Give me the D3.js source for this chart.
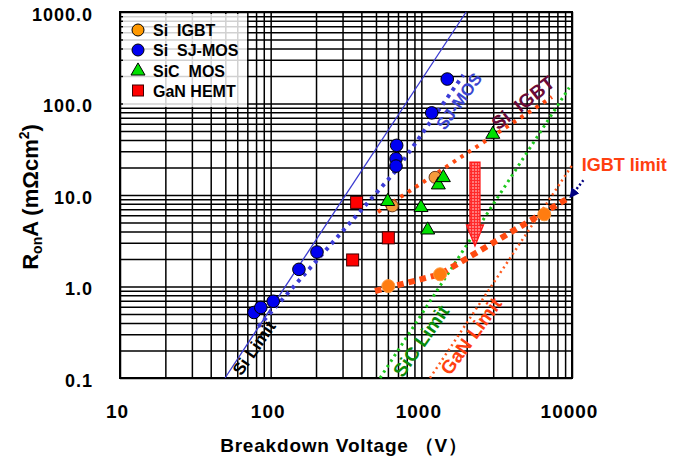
<!DOCTYPE html>
<html>
<head>
<meta charset="utf-8">
<script src="https://cdn.jsdelivr.net/npm/d3@7"></script>
<style>
  html, body { margin: 0; padding: 0; background: #fff; }
  svg { display: block; font-family: "Liberation Sans", Arial, sans-serif; font-weight: bold; }
</style>
</head>
<body>
<svg id="chart" width="686" height="463"></svg>
<script>
// ---- device data: breakdown voltage (V) and specific on-resistance (mΩcm²) ----
const siIgbtV   = [641, 1233];
const siIgbtR   = [7.6, 15.6];
const sjMosV    = [77.5, 86, 104, 154, 203, 686, 679, 679, 1172, 1486];
const sjMosR    = [0.52, 0.59, 0.69, 1.54, 2.38, 34.9, 24.9, 20.7, 79, 185];
const sicMosV   = [598, 995, 1102, 1297, 1400, 2980];
const sicMosR   = [8.5, 7.3, 4.15, 12.9, 15.5, 46.1];
const ganHemtV  = [372, 604, 350];
const ganHemtR  = [8.3, 3.4, 1.95];
// IGBT devices sitting on the projected IGBT limit
const igbtLimDevV = [604, 1331, 6550];
const igbtLimDevR = [1.01, 1.36, 6.15];

// ---- trend and material limit lines ----
const siLimitV    = [49.8, 1983];
const siLimitR    = [0.1, 1000];
const sicLimitV   = [532, 9590];
const sicLimitR   = [0.1, 149];
const ganLimitV   = [1141, 10150];
const ganLimitR   = [0.1, 21.8];
const sjTrendV    = [82.8, 686, 1899];
const sjTrendR    = [0.364, 18.8, 205];
const igbtTrendV  = [515, 7360];
const igbtTrendR  = [6.52, 117.8];
const igbtLimitV  = [493, 1331, 9700];
const igbtLimitR  = [0.893, 1.36, 9.5];

// ---- axes ----
const xMajor = [10, 100, 1000, 10000];
const xTickLabels = ["10", "100", "1000", "10000"];
const yMajor = [0.1, 1, 10, 100, 1000];
const yTickLabels = ["0.1", "1.0", "10.0", "100.0", "1000.0"];

const legendNames = ["Si  IGBT", "Si  SJ-MOS", "SiC  MOS", "GaN HEMT"];

const svg = d3.select("#chart");
const pLeft = 120, pRight = 572, pTop = 12, pBottom = 378;
const x = d3.scaleLog().domain([10, 10000]).range([pLeft, pRight]);
const y = d3.scaleLog().domain([0.1, 1000]).range([pBottom, pTop]);

const zip = (vs, rs) => vs.map((v, i) => [v, rs[i]]);

// hatched fill for the improvement arrow
const defs = svg.append("defs");
const pat = defs.append("pattern").attr("id", "hatch").attr("patternUnits", "userSpaceOnUse")
  .attr("width", 3).attr("height", 3);
pat.append("rect").attr("width", 3).attr("height", 3).attr("fill", "#ff7a7a");
pat.append("path").attr("d", "M0,0.5H3M0.5,0V3").attr("stroke", "#ff2a2a").attr("stroke-width", 1);
defs.append("marker").attr("id", "navyHead").attr("viewBox", "0 0 10 10").attr("refX", 8).attr("refY", 5)
  .attr("markerWidth", 4).attr("markerHeight", 4).attr("orient", "auto")
  .append("path").attr("d", "M0,0L10,5L0,10Z").attr("fill", "#000080");

// ---- grid ----
const gridX = svg.append("g").attr("transform", `translate(0,${pBottom})`)
  .call(d3.axisBottom(x).ticks(10).tickSize(-(pBottom - pTop)).tickFormat(""));
const gridY = svg.append("g").attr("transform", `translate(${pLeft},0)`)
  .call(d3.axisLeft(y).ticks(10).tickSize(-(pRight - pLeft)).tickFormat(""));
[gridX, gridY].forEach(g => {
  g.select(".domain").remove();
  g.selectAll("line").attr("stroke", "#000").attr("stroke-width", 1.5);
});

// plot frame
svg.append("rect").attr("x", pLeft).attr("y", pTop).attr("width", pRight - pLeft).attr("height", pBottom - pTop)
  .attr("fill", "none").attr("stroke", "#000").attr("stroke-width", 2);

// ---- tick labels ----
const xAxis = svg.append("g").attr("transform", `translate(0,${pBottom})`)
  .call(d3.axisBottom(x).tickValues(xMajor).tickSize(0).tickFormat((d, i) => xTickLabels[i]));
xAxis.select(".domain").remove();
xAxis.selectAll("text").attr("y", 40).attr("dy", 0).attr("dx", -3)
  .attr("font-size", 19).attr("font-weight", "bold").attr("letter-spacing", 1)
  .attr("font-family", "Liberation Sans, Arial, sans-serif").attr("fill", "#000");

const yAxis = svg.append("g").attr("transform", `translate(${pLeft},0)`)
  .call(d3.axisLeft(y).tickValues(yMajor).tickSize(0).tickPadding(27).tickFormat((d, i) => yTickLabels[i]));
yAxis.select(".domain").remove();
yAxis.selectAll("text").attr("dy", "0.45em")
  .attr("font-size", 18).attr("font-weight", "bold").attr("letter-spacing", 1)
  .attr("font-family", "Liberation Sans, Arial, sans-serif").attr("fill", "#000");

// axis titles
svg.append("text").attr("x", 344).attr("y", 452).attr("text-anchor", "middle")
  .attr("font-size", 19).attr("letter-spacing", 0.8).attr("xml:space", "preserve")
  .text("Breakdown Voltage （V）");

const yt = svg.append("text").attr("transform", "translate(38,197) rotate(-90)")
  .attr("text-anchor", "middle").attr("font-size", 22).attr("xml:space", "preserve");
yt.append("tspan").text("R");
yt.append("tspan").attr("font-size", 14).attr("dy", 4).text("on");
yt.append("tspan").attr("dy", -4).text("A (mΩcm");
yt.append("tspan").attr("font-size", 14).attr("dy", -9).text("2");
yt.append("tspan").attr("dy", 9).text(")");

// ---- lines ----
const line = d3.line().x(d => x(d[0])).y(d => y(d[1]));
const plot = svg.append("g");

plot.append("path").datum(zip(siLimitV, siLimitR)).attr("d", line)
  .attr("fill", "none").attr("stroke", "#3a3ad0").attr("stroke-width", 1.3);
plot.append("path").datum(zip(sicLimitV, sicLimitR)).attr("d", line)
  .attr("fill", "none").attr("stroke", "#1ec81e").attr("stroke-width", 3).attr("stroke-dasharray", "2.5,4");
plot.append("path").datum(zip(ganLimitV, ganLimitR)).attr("d", line)
  .attr("fill", "none").attr("stroke", "#ff5a1e").attr("stroke-width", 2.5).attr("stroke-dasharray", "2,3.5");
plot.append("path").datum(zip(sjTrendV, sjTrendR)).attr("d", line)
  .attr("fill", "none").attr("stroke", "#3b3bd6").attr("stroke-width", 4).attr("stroke-dasharray", "3.5,5");
plot.append("path").datum(zip(igbtTrendV, igbtTrendR)).attr("d", line)
  .attr("fill", "none").attr("stroke", "#ff4a10").attr("stroke-width", 4).attr("stroke-dasharray", "3.5,5.5");
plot.append("path").datum(zip(igbtLimitV, igbtLimitR)).attr("d", line)
  .attr("fill", "none").attr("stroke", "#ff4a10").attr("stroke-width", 6).attr("stroke-dasharray", "6.5,5");

// ---- markers ----
plot.selectAll(".ild").data(zip(igbtLimDevV, igbtLimDevR)).join("circle")
  .attr("cx", d => x(d[0])).attr("cy", d => y(d[1])).attr("r", 6.5)
  .attr("fill", "#ff7c10").attr("stroke", "#ff9a40").attr("stroke-width", 1);
plot.selectAll(".gan").data(zip(ganHemtV, ganHemtR)).join("rect")
  .attr("x", d => x(d[0]) - 6).attr("y", d => y(d[1]) - 6).attr("width", 12).attr("height", 12)
  .attr("fill", "#ff0000").attr("stroke", "#400000").attr("stroke-width", 1);
plot.selectAll(".igbt").data(zip(siIgbtV, siIgbtR)).join("circle")
  .attr("cx", d => x(d[0])).attr("cy", d => y(d[1])).attr("r", 6)
  .attr("fill", "#f59a3c").attr("stroke", "#704020").attr("stroke-width", 1);
const tri = d3.symbol().type(d3.symbolTriangle).size(85);
plot.selectAll(".sic").data(zip(sicMosV, sicMosR)).join("path")
  .attr("d", tri).attr("transform", d => `translate(${x(d[0])},${y(d[1])})`)
  .attr("fill", "#00e000").attr("stroke", "#000").attr("stroke-width", 1);
plot.selectAll(".sj").data(zip(sjMosV, sjMosR)).join("circle")
  .attr("cx", d => x(d[0])).attr("cy", d => y(d[1])).attr("r", 6.3)
  .attr("fill", "#0000f0").attr("stroke", "#000").attr("stroke-width", 1);

// ---- improvement arrow (IGBT trend -> IGBT limit) ----
const ax = x(2270), aTop = y(22.9), aNeck = y(4.7), aTip = y(2.77);
svg.append("path")
  .attr("d", `M${ax - 5},${aTop}H${ax + 5}V${aNeck}H${ax + 8.5}L${ax},${aTip}L${ax - 8.5},${aNeck}H${ax - 5}Z`)
  .attr("fill", "url(#hatch)").attr("stroke", "#ff1a1a").attr("stroke-width", 1.3);

// ---- annotations ----
function rotLabel(v, r, angle, size, color, txt) {
  svg.append("text").attr("transform", `translate(${x(v)},${y(r)}) rotate(${angle})`)
    .attr("text-anchor", "middle").attr("dy", "0.35em").attr("font-size", size)
    .attr("fill", color).attr("xml:space", "preserve").text(txt);
}
rotLabel(1778, 106, -54, 17, "#3b45d0", "SJ-MOS");
rotLabel(4730, 102, -38, 19, "#6a0a38", "Si  IGBT");
rotLabel(77.5, 0.213, -55, 17, "#000", "Si Limit");
rotLabel(995, 0.254, -55, 19, "#0a8a0a", "SiC Limit");
rotLabel(2138, 0.288, -54, 19, "#ff4010", "GaN Limit");

svg.append("text").attr("x", x(11590)).attr("y", y(18.3)).attr("font-size", 18)
  .attr("fill", "#ff4010").text("IGBT limit");
svg.append("line").attr("x1", x(11900)).attr("y1", y(14.5)).attr("x2", x(9800)).attr("y2", y(9.6))
  .attr("stroke", "#000080").attr("stroke-width", 2.5).attr("stroke-dasharray", "2,2.5")
  .attr("marker-end", "url(#navyHead)");

// ---- legend ----
const lg = svg.append("g");
lg.append("rect").attr("x", 123).attr("y", 14).attr("width", 124).attr("height", 93)
  .attr("fill", "#fff").attr("fill-opacity", 0.82);
const rows = [30, 50, 71, 91];
const mx = 138;
lg.append("circle").attr("cx", mx).attr("cy", rows[0]).attr("r", 6).attr("fill", "#ff9900").attr("stroke", "#000");
lg.append("circle").attr("cx", mx).attr("cy", rows[1]).attr("r", 6).attr("fill", "#0000f0").attr("stroke", "#000");
lg.append("path").attr("d", tri).attr("transform", `translate(${mx},${rows[2]})`)
  .attr("fill", "#00e000").attr("stroke", "#000");
lg.append("rect").attr("x", mx - 5.5).attr("y", rows[3] - 6).attr("width", 11).attr("height", 11)
  .attr("fill", "#ff0000").attr("stroke", "#400000");
legendNames.forEach((n, i) => {
  lg.append("text").attr("x", 153).attr("y", rows[i]).attr("dy", "0.36em").attr("font-size", 16)
    .attr("xml:space", "preserve").text(n);
});
</script>
</body>
</html>
